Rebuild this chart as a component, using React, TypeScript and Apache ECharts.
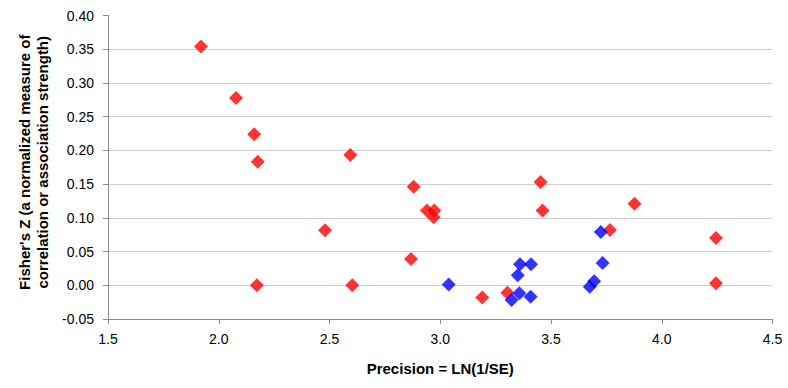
import React, { useEffect, useRef } from "react";
import * as echarts from "echarts";

const xTicks = [1.5, 2.0, 2.5, 3.0, 3.5, 4.0, 4.5];
const yTicks = [-0.05, 0.0, 0.05, 0.1, 0.15, 0.2, 0.25, 0.3, 0.35, 0.4];

const redPoints: [number, number][] = [
  [1.92, 0.354],
  [2.078, 0.2775],
  [2.16, 0.224],
  [2.176, 0.183],
  [2.172, 0.0],
  [2.48, 0.0816],
  [2.594, 0.193],
  [2.603, 0.0],
  [2.88, 0.146],
  [2.868, 0.039],
  [2.94, 0.111],
  [2.973, 0.111],
  [2.97, 0.101],
  [3.19, -0.018],
  [3.303, -0.011],
  [3.453, 0.153],
  [3.462, 0.111],
  [3.766, 0.082],
  [3.877, 0.121],
  [4.245, 0.07],
  [4.245, 0.003],
];

const bluePoints: [number, number][] = [
  [3.038, 0.001],
  [3.35, 0.015],
  [3.36, 0.031],
  [3.41, 0.031],
  [3.357, -0.012],
  [3.322, -0.022],
  [3.408, -0.017],
  [3.675, -0.002],
  [3.695, 0.006],
  [3.725, 0.079],
  [3.733, 0.033],
];

const xTitle = "Precision = LN(1/SE)";
const yTitle = "Fisher's Z (a normalized measure of\ncorrelation or association strength)";

export default function App() {
  const ref = useRef<HTMLDivElement>(null);
  useEffect(() => {
    if (!ref.current) return;
    const chart = echarts.init(ref.current, null, { renderer: "svg" });
    const font = "Liberation Sans, Arial, sans-serif";
    const gridColors = yTicks.map((_, i) => (i === yTicks.length - 1 ? "rgba(0,0,0,0)" : "#cfcfcf"));
    chart.setOption({
      animation: false,
      backgroundColor: "#ffffff",
      grid: { left: 108, right: 15.5, top: 15.5, bottom: 69, containLabel: false },
      xAxis: {
        type: "value",
        min: xTicks[0],
        max: xTicks[xTicks.length - 1],
        interval: 0.5,
        name: xTitle,
        nameLocation: "middle",
        nameGap: 42,
        nameTextStyle: { fontFamily: font, fontSize: 15, fontWeight: "bold", color: "#000" },
        axisLine: { show: true, onZero: false, lineStyle: { color: "#8c8c8c", width: 1 } },
        axisTick: { show: true, length: 5, lineStyle: { color: "#8c8c8c" } },
        axisLabel: {
          fontFamily: font,
          fontSize: 14,
          color: "#000",
          margin: 13,
          formatter: (v: number) => v.toFixed(1),
        },
        splitLine: { show: false },
      },
      yAxis: {
        type: "value",
        min: yTicks[0],
        max: yTicks[yTicks.length - 1],
        interval: 0.05,
        name: yTitle,
        nameLocation: "middle",
        nameGap: 56,
        nameRotate: 90,
        nameTextStyle: {
          fontFamily: font,
          fontSize: 15,
          fontWeight: "bold",
          color: "#000",
          lineHeight: 18,
          padding: [0, 0, 0, 10],
        },
        axisLine: { show: true, onZero: false, lineStyle: { color: "#8c8c8c", width: 1 } },
        axisTick: { show: true, length: 5, lineStyle: { color: "#8c8c8c" } },
        axisLabel: {
          fontFamily: font,
          fontSize: 14,
          color: "#000",
          margin: 14,
          formatter: (v: number) => v.toFixed(2),
        },
        splitLine: { show: true, lineStyle: { color: gridColors, width: 1 } },
      },
      series: [
        {
          type: "scatter",
          name: "red",
          data: redPoints,
          symbol: "diamond",
          symbolSize: 14,
          itemStyle: { color: "#ff0000" },
        },
        {
          type: "scatter",
          name: "blue",
          data: bluePoints,
          symbol: "diamond",
          symbolSize: 14,
          itemStyle: { color: "#0000ff" },
        },
      ],
    });
    return () => chart.dispose();
  }, []);
  return <div ref={ref} style={{ width: 788, height: 388, position: "absolute", left: 0, top: 0 }} />;
}
